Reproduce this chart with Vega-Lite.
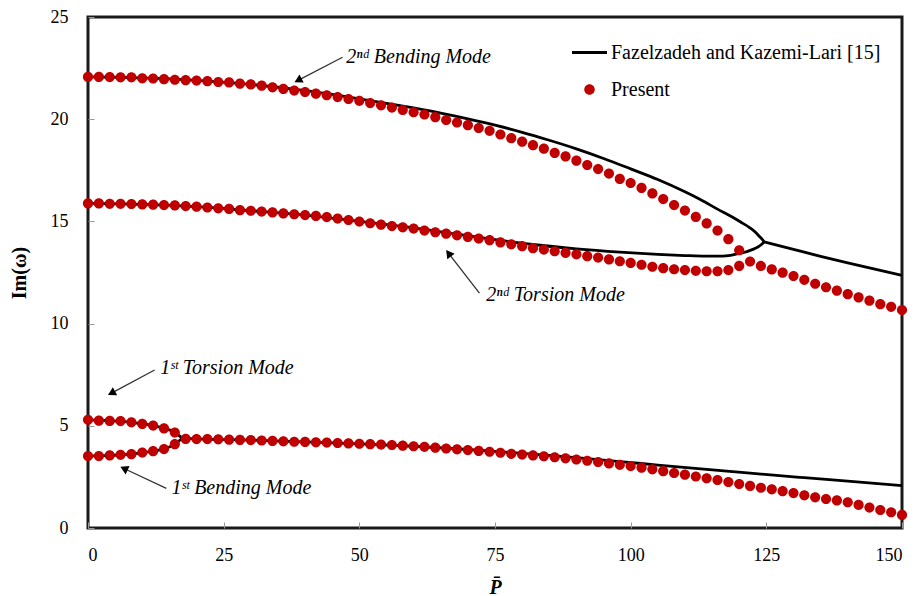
{
  "$schema": "https://vega.github.io/schema/vega-lite/v6.json",
  "width": 814,
  "height": 511,
  "autosize": "none",
  "padding": {"left": 88, "top": 17, "right": 18, "bottom": 68},
  "background": "white",
  "config": {
    "view": {"stroke": "#1a1a1a", "strokeWidth": 3},
    "font": "Liberation Serif, Tinos, Times New Roman, DejaVu Serif, serif"
  },
  "datasets": {
    "ref": [
      {"b":"B2","P":0,"v":22.07},{"b":"B2","P":10,"v":22.02},{"b":"B2","P":20,"v":21.9},{"b":"B2","P":30,"v":21.7},{"b":"B2","P":40,"v":21.4},{"b":"B2","P":45,"v":21.21},{"b":"B2","P":50,"v":21.0},{"b":"B2","P":55,"v":20.78},{"b":"B2","P":60,"v":20.55},{"b":"B2","P":65,"v":20.3},{"b":"B2","P":70,"v":20.02},{"b":"B2","P":75,"v":19.71},{"b":"B2","P":80,"v":19.36},{"b":"B2","P":85,"v":18.97},{"b":"B2","P":90,"v":18.55},{"b":"B2","P":95,"v":18.08},{"b":"B2","P":100,"v":17.57},{"b":"B2","P":105,"v":17.05},{"b":"B2","P":110,"v":16.45},{"b":"B2","P":113,"v":16.05},{"b":"B2","P":116,"v":15.6},{"b":"B2","P":118.8,"v":15.2},{"b":"B2","P":120.5,"v":14.93},{"b":"B2","P":121.9,"v":14.7},{"b":"B2","P":123,"v":14.47},{"b":"B2","P":123.7,"v":14.27},{"b":"B2","P":124.2,"v":14.13},{"b":"B2","P":124.6,"v":14.0},
      {"b":"T2","P":0,"v":15.88},{"b":"T2","P":10,"v":15.83},{"b":"T2","P":20,"v":15.72},{"b":"T2","P":30,"v":15.52},{"b":"T2","P":40,"v":15.31},{"b":"T2","P":50,"v":15.0},{"b":"T2","P":60,"v":14.68},{"b":"T2","P":65,"v":14.49},{"b":"T2","P":70,"v":14.3},{"b":"T2","P":75,"v":14.11},{"b":"T2","P":82,"v":13.87},{"b":"T2","P":90,"v":13.66},{"b":"T2","P":98,"v":13.5},{"b":"T2","P":105,"v":13.39},{"b":"T2","P":110,"v":13.33},{"b":"T2","P":114,"v":13.3},{"b":"T2","P":116,"v":13.3},{"b":"T2","P":118,"v":13.33},{"b":"T2","P":119.4,"v":13.4},{"b":"T2","P":121,"v":13.49},{"b":"T2","P":121.9,"v":13.57},{"b":"T2","P":123,"v":13.69},{"b":"T2","P":123.7,"v":13.79},{"b":"T2","P":124.2,"v":13.89},{"b":"T2","P":124.6,"v":14.0},
      {"b":"C2","P":124.6,"v":14.0},{"b":"C2","P":130,"v":13.63},{"b":"C2","P":135,"v":13.29},{"b":"C2","P":140,"v":12.97},{"b":"C2","P":145,"v":12.66},{"b":"C2","P":150,"v":12.36},
      {"b":"T1","P":0,"v":5.29},{"b":"T1","P":4,"v":5.25},{"b":"T1","P":8,"v":5.17},{"b":"T1","P":10,"v":5.1},{"b":"T1","P":12,"v":5.01},{"b":"T1","P":14,"v":4.88},{"b":"T1","P":15,"v":4.8},{"b":"T1","P":16,"v":4.66},{"b":"T1","P":17.4,"v":4.4},
      {"b":"B1","P":0,"v":3.52},{"b":"B1","P":4,"v":3.55},{"b":"B1","P":8,"v":3.61},{"b":"B1","P":10,"v":3.68},{"b":"B1","P":12,"v":3.76},{"b":"B1","P":14,"v":3.87},{"b":"B1","P":15,"v":3.96},{"b":"B1","P":16,"v":4.1},{"b":"B1","P":17.4,"v":4.4},
      {"b":"C1","P":17.4,"v":4.4},{"b":"C1","P":20,"v":4.36},{"b":"C1","P":30,"v":4.3},{"b":"C1","P":40,"v":4.21},{"b":"C1","P":50,"v":4.12},{"b":"C1","P":60,"v":4.0},{"b":"C1","P":70,"v":3.84},{"b":"C1","P":75,"v":3.75},{"b":"C1","P":80,"v":3.65},{"b":"C1","P":85,"v":3.55},{"b":"C1","P":90,"v":3.44},{"b":"C1","P":98.5,"v":3.24},{"b":"C1","P":105,"v":3.08},{"b":"C1","P":114,"v":2.87},{"b":"C1","P":122,"v":2.68},{"b":"C1","P":132,"v":2.46},{"b":"C1","P":140,"v":2.29},{"b":"C1","P":150,"v":2.07}
    ],
    "present": [
      {"b":"B2","P":0,"v":22.07,"src":"Present"},{"b":"B2","P":2,"v":22.07,"src":"Present"},{"b":"B2","P":4,"v":22.06,"src":"Present"},{"b":"B2","P":6,"v":22.05,"src":"Present"},{"b":"B2","P":8,"v":22.05,"src":"Present"},{"b":"B2","P":10,"v":22.0,"src":"Present"},{"b":"B2","P":12,"v":21.99,"src":"Present"},{"b":"B2","P":14,"v":21.96,"src":"Present"},{"b":"B2","P":16,"v":21.93,"src":"Present"},{"b":"B2","P":18,"v":21.91,"src":"Present"},{"b":"B2","P":20,"v":21.89,"src":"Present"},{"b":"B2","P":22,"v":21.86,"src":"Present"},{"b":"B2","P":24,"v":21.82,"src":"Present"},{"b":"B2","P":26,"v":21.8,"src":"Present"},{"b":"B2","P":28,"v":21.74,"src":"Present"},{"b":"B2","P":30,"v":21.7,"src":"Present"},{"b":"B2","P":32,"v":21.64,"src":"Present"},{"b":"B2","P":34,"v":21.56,"src":"Present"},{"b":"B2","P":36,"v":21.48,"src":"Present"},{"b":"B2","P":38,"v":21.4,"src":"Present"},{"b":"B2","P":40,"v":21.33,"src":"Present"},{"b":"B2","P":42,"v":21.25,"src":"Present"},{"b":"B2","P":44,"v":21.17,"src":"Present"},{"b":"B2","P":46,"v":21.08,"src":"Present"},{"b":"B2","P":48,"v":20.99,"src":"Present"},{"b":"B2","P":50,"v":20.9,"src":"Present"},{"b":"B2","P":52,"v":20.79,"src":"Present"},{"b":"B2","P":54,"v":20.68,"src":"Present"},{"b":"B2","P":56,"v":20.57,"src":"Present"},{"b":"B2","P":58,"v":20.45,"src":"Present"},{"b":"B2","P":60,"v":20.34,"src":"Present"},{"b":"B2","P":62,"v":20.23,"src":"Present"},{"b":"B2","P":64,"v":20.1,"src":"Present"},{"b":"B2","P":66,"v":19.96,"src":"Present"},{"b":"B2","P":68,"v":19.84,"src":"Present"},{"b":"B2","P":70,"v":19.71,"src":"Present"},{"b":"B2","P":72,"v":19.57,"src":"Present"},{"b":"B2","P":74,"v":19.43,"src":"Present"},{"b":"B2","P":76,"v":19.25,"src":"Present"},{"b":"B2","P":78,"v":19.07,"src":"Present"},{"b":"B2","P":80,"v":18.9,"src":"Present"},{"b":"B2","P":82,"v":18.73,"src":"Present"},{"b":"B2","P":84,"v":18.56,"src":"Present"},{"b":"B2","P":86,"v":18.35,"src":"Present"},{"b":"B2","P":88,"v":18.18,"src":"Present"},{"b":"B2","P":90,"v":17.97,"src":"Present"},{"b":"B2","P":92,"v":17.76,"src":"Present"},{"b":"B2","P":94,"v":17.56,"src":"Present"},{"b":"B2","P":96,"v":17.34,"src":"Present"},{"b":"B2","P":98,"v":17.08,"src":"Present"},{"b":"B2","P":100,"v":16.88,"src":"Present"},{"b":"B2","P":102,"v":16.64,"src":"Present"},{"b":"B2","P":104,"v":16.37,"src":"Present"},{"b":"B2","P":106,"v":16.09,"src":"Present"},{"b":"B2","P":108,"v":15.8,"src":"Present"},{"b":"B2","P":110,"v":15.53,"src":"Present"},{"b":"B2","P":112,"v":15.22,"src":"Present"},{"b":"B2","P":114,"v":14.9,"src":"Present"},{"b":"B2","P":116,"v":14.55,"src":"Present"},{"b":"B2","P":118,"v":14.13,"src":"Present"},{"b":"B2","P":120,"v":13.59,"src":"Present"},
      {"b":"T2","P":0,"v":15.88,"src":"Present"},{"b":"T2","P":2,"v":15.88,"src":"Present"},{"b":"T2","P":4,"v":15.86,"src":"Present"},{"b":"T2","P":6,"v":15.86,"src":"Present"},{"b":"T2","P":8,"v":15.85,"src":"Present"},{"b":"T2","P":10,"v":15.83,"src":"Present"},{"b":"T2","P":12,"v":15.82,"src":"Present"},{"b":"T2","P":14,"v":15.8,"src":"Present"},{"b":"T2","P":16,"v":15.78,"src":"Present"},{"b":"T2","P":18,"v":15.75,"src":"Present"},{"b":"T2","P":20,"v":15.72,"src":"Present"},{"b":"T2","P":22,"v":15.68,"src":"Present"},{"b":"T2","P":24,"v":15.64,"src":"Present"},{"b":"T2","P":26,"v":15.61,"src":"Present"},{"b":"T2","P":28,"v":15.55,"src":"Present"},{"b":"T2","P":30,"v":15.52,"src":"Present"},{"b":"T2","P":32,"v":15.48,"src":"Present"},{"b":"T2","P":34,"v":15.44,"src":"Present"},{"b":"T2","P":36,"v":15.39,"src":"Present"},{"b":"T2","P":38,"v":15.35,"src":"Present"},{"b":"T2","P":40,"v":15.31,"src":"Present"},{"b":"T2","P":42,"v":15.27,"src":"Present"},{"b":"T2","P":44,"v":15.21,"src":"Present"},{"b":"T2","P":46,"v":15.14,"src":"Present"},{"b":"T2","P":48,"v":15.07,"src":"Present"},{"b":"T2","P":50,"v":14.99,"src":"Present"},{"b":"T2","P":52,"v":14.91,"src":"Present"},{"b":"T2","P":54,"v":14.84,"src":"Present"},{"b":"T2","P":56,"v":14.77,"src":"Present"},{"b":"T2","P":58,"v":14.71,"src":"Present"},{"b":"T2","P":60,"v":14.65,"src":"Present"},{"b":"T2","P":62,"v":14.55,"src":"Present"},{"b":"T2","P":64,"v":14.47,"src":"Present"},{"b":"T2","P":66,"v":14.4,"src":"Present"},{"b":"T2","P":68,"v":14.32,"src":"Present"},{"b":"T2","P":70,"v":14.24,"src":"Present"},{"b":"T2","P":72,"v":14.16,"src":"Present"},{"b":"T2","P":74,"v":14.08,"src":"Present"},{"b":"T2","P":76,"v":13.97,"src":"Present"},{"b":"T2","P":78,"v":13.88,"src":"Present"},{"b":"T2","P":80,"v":13.79,"src":"Present"},{"b":"T2","P":82,"v":13.69,"src":"Present"},{"b":"T2","P":84,"v":13.62,"src":"Present"},{"b":"T2","P":86,"v":13.54,"src":"Present"},{"b":"T2","P":88,"v":13.46,"src":"Present"},{"b":"T2","P":90,"v":13.39,"src":"Present"},{"b":"T2","P":92,"v":13.3,"src":"Present"},{"b":"T2","P":94,"v":13.23,"src":"Present"},{"b":"T2","P":96,"v":13.14,"src":"Present"},{"b":"T2","P":98,"v":13.05,"src":"Present"},{"b":"T2","P":100,"v":12.97,"src":"Present"},{"b":"T2","P":102,"v":12.88,"src":"Present"},{"b":"T2","P":104,"v":12.78,"src":"Present"},{"b":"T2","P":106,"v":12.71,"src":"Present"},{"b":"T2","P":108,"v":12.66,"src":"Present"},{"b":"T2","P":110,"v":12.62,"src":"Present"},{"b":"T2","P":112,"v":12.58,"src":"Present"},{"b":"T2","P":114,"v":12.56,"src":"Present"},{"b":"T2","P":116,"v":12.56,"src":"Present"},{"b":"T2","P":118,"v":12.62,"src":"Present"},{"b":"T2","P":120,"v":12.82,"src":"Present"},{"b":"T2","P":122,"v":13.04,"src":"Present"},{"b":"T2","P":124,"v":12.82,"src":"Present"},{"b":"T2","P":126,"v":12.65,"src":"Present"},{"b":"T2","P":128,"v":12.49,"src":"Present"},{"b":"T2","P":130,"v":12.33,"src":"Present"},{"b":"T2","P":132,"v":12.14,"src":"Present"},{"b":"T2","P":134,"v":11.95,"src":"Present"},{"b":"T2","P":136,"v":11.78,"src":"Present"},{"b":"T2","P":138,"v":11.61,"src":"Present"},{"b":"T2","P":140,"v":11.44,"src":"Present"},{"b":"T2","P":142,"v":11.28,"src":"Present"},{"b":"T2","P":144,"v":11.12,"src":"Present"},{"b":"T2","P":146,"v":10.95,"src":"Present"},{"b":"T2","P":148,"v":10.82,"src":"Present"},{"b":"T2","P":150,"v":10.66,"src":"Present"},
      {"b":"T1","P":0,"v":5.29,"src":"Present"},{"b":"T1","P":2,"v":5.25,"src":"Present"},{"b":"T1","P":4,"v":5.24,"src":"Present"},{"b":"T1","P":6,"v":5.23,"src":"Present"},{"b":"T1","P":8,"v":5.17,"src":"Present"},{"b":"T1","P":10,"v":5.09,"src":"Present"},{"b":"T1","P":12,"v":5.01,"src":"Present"},{"b":"T1","P":14,"v":4.87,"src":"Present"},{"b":"T1","P":16,"v":4.67,"src":"Present"},
      {"b":"B1","P":0,"v":3.52,"src":"Present"},{"b":"B1","P":2,"v":3.52,"src":"Present"},{"b":"B1","P":4,"v":3.55,"src":"Present"},{"b":"B1","P":6,"v":3.58,"src":"Present"},{"b":"B1","P":8,"v":3.61,"src":"Present"},{"b":"B1","P":10,"v":3.69,"src":"Present"},{"b":"B1","P":12,"v":3.76,"src":"Present"},{"b":"B1","P":14,"v":3.86,"src":"Present"},{"b":"B1","P":16,"v":4.1,"src":"Present"},{"b":"B1","P":18,"v":4.36,"src":"Present"},{"b":"B1","P":20,"v":4.35,"src":"Present"},{"b":"B1","P":22,"v":4.35,"src":"Present"},{"b":"B1","P":24,"v":4.34,"src":"Present"},{"b":"B1","P":26,"v":4.32,"src":"Present"},{"b":"B1","P":28,"v":4.31,"src":"Present"},{"b":"B1","P":30,"v":4.3,"src":"Present"},{"b":"B1","P":32,"v":4.28,"src":"Present"},{"b":"B1","P":34,"v":4.26,"src":"Present"},{"b":"B1","P":36,"v":4.24,"src":"Present"},{"b":"B1","P":38,"v":4.22,"src":"Present"},{"b":"B1","P":40,"v":4.21,"src":"Present"},{"b":"B1","P":42,"v":4.19,"src":"Present"},{"b":"B1","P":44,"v":4.18,"src":"Present"},{"b":"B1","P":46,"v":4.16,"src":"Present"},{"b":"B1","P":48,"v":4.14,"src":"Present"},{"b":"B1","P":50,"v":4.12,"src":"Present"},{"b":"B1","P":52,"v":4.1,"src":"Present"},{"b":"B1","P":54,"v":4.08,"src":"Present"},{"b":"B1","P":56,"v":4.06,"src":"Present"},{"b":"B1","P":58,"v":4.03,"src":"Present"},{"b":"B1","P":60,"v":4.0,"src":"Present"},{"b":"B1","P":62,"v":3.97,"src":"Present"},{"b":"B1","P":64,"v":3.93,"src":"Present"},{"b":"B1","P":66,"v":3.89,"src":"Present"},{"b":"B1","P":68,"v":3.85,"src":"Present"},{"b":"B1","P":70,"v":3.81,"src":"Present"},{"b":"B1","P":72,"v":3.77,"src":"Present"},{"b":"B1","P":74,"v":3.73,"src":"Present"},{"b":"B1","P":76,"v":3.68,"src":"Present"},{"b":"B1","P":78,"v":3.63,"src":"Present"},{"b":"B1","P":80,"v":3.59,"src":"Present"},{"b":"B1","P":82,"v":3.55,"src":"Present"},{"b":"B1","P":84,"v":3.51,"src":"Present"},{"b":"B1","P":86,"v":3.46,"src":"Present"},{"b":"B1","P":88,"v":3.41,"src":"Present"},{"b":"B1","P":90,"v":3.35,"src":"Present"},{"b":"B1","P":92,"v":3.29,"src":"Present"},{"b":"B1","P":94,"v":3.23,"src":"Present"},{"b":"B1","P":96,"v":3.16,"src":"Present"},{"b":"B1","P":98,"v":3.09,"src":"Present"},{"b":"B1","P":100,"v":3.03,"src":"Present"},{"b":"B1","P":102,"v":2.95,"src":"Present"},{"b":"B1","P":104,"v":2.87,"src":"Present"},{"b":"B1","P":106,"v":2.78,"src":"Present"},{"b":"B1","P":108,"v":2.69,"src":"Present"},{"b":"B1","P":110,"v":2.61,"src":"Present"},{"b":"B1","P":112,"v":2.52,"src":"Present"},{"b":"B1","P":114,"v":2.43,"src":"Present"},{"b":"B1","P":116,"v":2.35,"src":"Present"},{"b":"B1","P":118,"v":2.25,"src":"Present"},{"b":"B1","P":120,"v":2.15,"src":"Present"},{"b":"B1","P":122,"v":2.06,"src":"Present"},{"b":"B1","P":124,"v":1.97,"src":"Present"},{"b":"B1","P":126,"v":1.89,"src":"Present"},{"b":"B1","P":128,"v":1.8,"src":"Present"},{"b":"B1","P":130,"v":1.71,"src":"Present"},{"b":"B1","P":132,"v":1.6,"src":"Present"},{"b":"B1","P":134,"v":1.5,"src":"Present"},{"b":"B1","P":136,"v":1.42,"src":"Present"},{"b":"B1","P":138,"v":1.35,"src":"Present"},{"b":"B1","P":140,"v":1.26,"src":"Present"},{"b":"B1","P":142,"v":1.13,"src":"Present"},{"b":"B1","P":144,"v":1.0,"src":"Present"},{"b":"B1","P":146,"v":0.88,"src":"Present"},{"b":"B1","P":148,"v":0.77,"src":"Present"},{"b":"B1","P":150,"v":0.64,"src":"Present"}
    ],
    "notes": [
      {"label":"2ⁿᵈ Bending Mode","P":47.6,"v":23.03},
      {"label":"2ⁿᵈ Torsion Mode","P":73.4,"v":11.39},
      {"label":"1ˢᵗ Torsion Mode","P":13.3,"v":7.81},
      {"label":"1ˢᵗ Bending Mode","P":15.4,"v":1.94}
    ],
    "arrows": [
      {"id":"a1","P":46.91,"v":23.03,"P2":38.71,"v2":21.9},
      {"id":"a2","P":72.13,"v":11.49,"P2":66.44,"v2":13.44},
      {"id":"a3","P":12.28,"v":7.73,"P2":4.33,"v2":6.6},
      {"id":"a4","P":14.44,"v":1.94,"P2":6.63,"v2":2.91}
    ]
  },
  "layer": [
    {
      "data": {"name": "ref"},
      "mark": {"type": "line", "color": "black", "strokeWidth": 2.8, "interpolate": "monotone"},
      "encoding": {
        "x": {
          "field": "P", "type": "quantitative",
          "scale": {"domain": [0, 150], "nice": false, "zero": false},
          "axis": {
            "title": "P̄", "values": [0, 25, 50, 75, 100, 125, 150],
            "titleFont": "Liberation Serif, Tinos, Times New Roman, DejaVu Serif, serif", "titleFontSize": 20, "titleFontStyle": "italic", "titleFontWeight": "bold", "titleColor": "black", "titlePadding": 13,
            "labelFont": "Liberation Serif, Tinos, Times New Roman, DejaVu Serif, serif", "labelFontSize": 18, "labelColor": "black", "labelPadding": 24,
            "domain": false, "grid": false, "tickSize": -6, "tickColor": "#999999", "tickWidth": 1
          }
        },
        "y": {
          "field": "v", "type": "quantitative",
          "scale": {"domain": [0, 25], "nice": false},
          "axis": {
            "title": "Im(ω)", "values": [0, 5, 10, 15, 20, 25],
            "titleFont": "Liberation Serif, Tinos, Times New Roman, DejaVu Serif, serif", "titleFontSize": 20, "titleFontWeight": "bold", "titleColor": "black", "titlePadding": 21,
            "labelFont": "Liberation Serif, Tinos, Times New Roman, DejaVu Serif, serif", "labelFontSize": 18, "labelColor": "black", "labelPadding": 26,
            "domain": false, "grid": false, "tickSize": -6, "tickColor": "#999999", "tickWidth": 1
          }
        },
        "detail": {"field": "b"}
      }
    },
    {
      "data": {"name": "present"},
      "mark": {"type": "point", "filled": true, "opacity": 1, "size": 1150, "strokeWidth": 0},
      "encoding": {
        "x": {"field": "P", "type": "quantitative"},
        "y": {"field": "v", "type": "quantitative"},
        "color": {
          "field": "src", "type": "nominal",
          "scale": {"domain": ["Fazelzadeh and Kazemi-Lari [15]", "Present"], "range": ["black", "#C00000"]},
          "legend": {
            "title": null, "orient": "none", "legendX": 484, "legendY": 18, "padding": 0,
            "labelFont": "Liberation Serif, Tinos, Times New Roman, DejaVu Serif, serif", "labelFontSize": 20, "labelColor": "black", "labelOffset": 4, "labelLimit": 400,
            "symbolSize": 1225, "symbolStrokeWidth": 0, "rowPadding": 9
          }
        },
        "shape": {
          "field": "src", "type": "nominal",
          "scale": {"domain": ["Fazelzadeh and Kazemi-Lari [15]", "Present"], "range": ["M-1,-0.085L1,-0.085L1,0.085L-1,0.085Z", "M0.3,0A0.3,0.3,0,1,1,-0.3,0A0.3,0.3,0,1,1,0.3,0Z"]},
          "legend": {
            "title": null, "orient": "none", "legendX": 484, "legendY": 18, "padding": 0,
            "labelFont": "Liberation Serif, Tinos, Times New Roman, DejaVu Serif, serif", "labelFontSize": 20, "labelColor": "black", "labelOffset": 4, "labelLimit": 400,
            "symbolSize": 1225, "symbolStrokeWidth": 0, "rowPadding": 9
          }
        }
      }
    },
    {
      "data": {"name": "arrows"},
      "mark": {"type": "rule", "color": "#333333", "strokeWidth": 1.3},
      "encoding": {
        "x": {"field": "P", "type": "quantitative"},
        "y": {"field": "v", "type": "quantitative"},
        "x2": {"field": "P2"},
        "y2": {"field": "v2"}
      }
    },
    {
      "data": {"name": "arrows"},
      "transform": [{"filter": "datum.id === 'a1'"}],
      "mark": {"type": "point", "shape": "triangle-up", "filled": true, "color": "black", "opacity": 1, "size": 85, "angle": 242.5},
      "encoding": {"x": {"field": "P2", "type": "quantitative"}, "y": {"field": "v2", "type": "quantitative"}}
    },
    {
      "data": {"name": "arrows"},
      "transform": [{"filter": "datum.id === 'a2'"}],
      "mark": {"type": "point", "shape": "triangle-up", "filled": true, "color": "black", "opacity": 1, "size": 85, "angle": 322.5},
      "encoding": {"x": {"field": "P2", "type": "quantitative"}, "y": {"field": "v2", "type": "quantitative"}}
    },
    {
      "data": {"name": "arrows"},
      "transform": [{"filter": "datum.id === 'a3'"}],
      "mark": {"type": "point", "shape": "triangle-up", "filled": true, "color": "black", "opacity": 1, "size": 85, "angle": 241.8},
      "encoding": {"x": {"field": "P2", "type": "quantitative"}, "y": {"field": "v2", "type": "quantitative"}}
    },
    {
      "data": {"name": "arrows"},
      "transform": [{"filter": "datum.id === 'a4'"}],
      "mark": {"type": "point", "shape": "triangle-up", "filled": true, "color": "black", "opacity": 1, "size": 85, "angle": 295.2},
      "encoding": {"x": {"field": "P2", "type": "quantitative"}, "y": {"field": "v2", "type": "quantitative"}}
    },
    {
      "data": {"name": "notes"},
      "mark": {"type": "text", "align": "left", "baseline": "middle", "font": "Liberation Serif, Tinos, Times New Roman, DejaVu Serif, serif", "fontStyle": "italic", "fontSize": 20, "color": "black"},
      "encoding": {
        "x": {"field": "P", "type": "quantitative"},
        "y": {"field": "v", "type": "quantitative"},
        "text": {"field": "label"}
      }
    }
  ]
}
